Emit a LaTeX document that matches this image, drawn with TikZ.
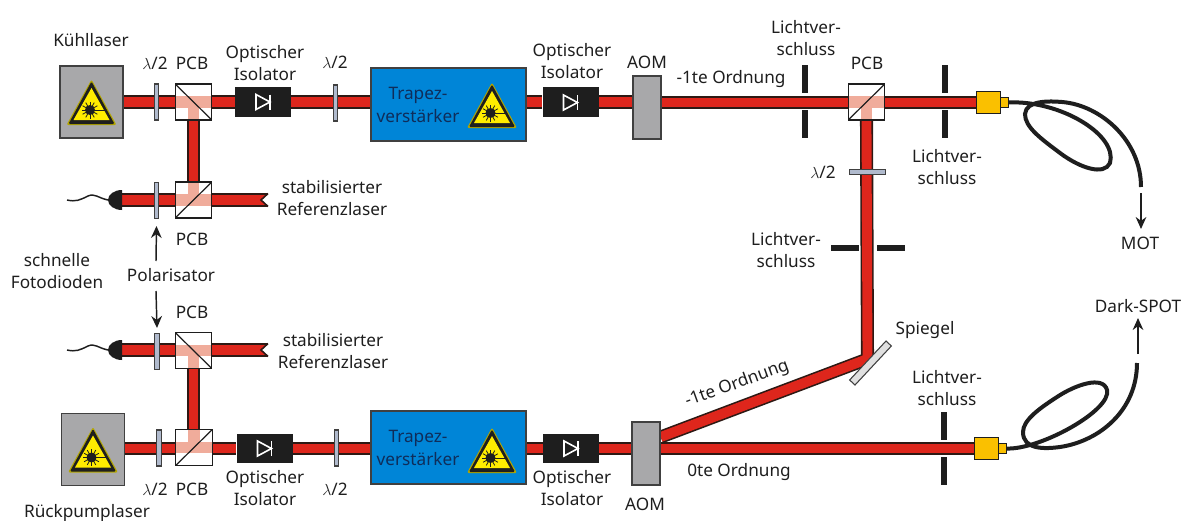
\documentclass[tikz,border=0pt]{standalone}
\usepackage{fontspec}
\setmainfont{Noto Sans}
\usetikzlibrary{arrows.meta,backgrounds}
\definecolor{beamred}{RGB}{222,38,28}
\definecolor{beamedge}{RGB}{45,25,20}
\definecolor{beampink}{RGB}{240,172,155}
\definecolor{boxgray}{RGB}{168,168,170}
\definecolor{ampblue}{RGB}{0,133,215}
\definecolor{amptext}{RGB}{15,45,90}
\definecolor{warnyellow}{RGB}{255,236,0}
\definecolor{fibreyellow}{RGB}{250,192,0}
\definecolor{plateblue}{RGB}{176,186,205}
\definecolor{inkdark}{RGB}{30,30,30}
\tikzset{
  pics/warnsign/.style={code={
    \fill[warnyellow!70!black, rounded corners=1.5] (-25,23) -- (0,-22.5) -- (25,23) -- cycle;
    \fill[inkdark, rounded corners=1] (-23,22) -- (0,-20.5) -- (23,22) -- cycle;
    \fill[warnyellow] (-18,18) -- (0,-14) -- (18,18) -- cycle;
    \fill[inkdark] (-1.5,8) circle (5);
    \foreach \a in {0,30,...,330} {\draw[inkdark, line width=0.6] (-1.5,8) -- ++(\a:8.5);}
    \draw[inkdark, line width=0.6] (-1.5,8) -- (15,8);
  }},
  pics/diode/.style={code={
    \draw[white, line width=1.2, line join=miter] (-7,-7.5) -- (-7,7.5) -- (7,0) -- cycle;
    \draw[white, line width=1.2] (7,-7.5) -- (7,7.5);
  }}
}
\begin{document}
\begin{tikzpicture}[
    x=0.75pt, y=-0.75pt,
    every node/.style={font=\fontsize{12.9}{16.7}\selectfont, text=inkdark, align=center, inner sep=0pt},
    beam/.style={draw=beamedge, line width=1.2pt, double=beamred, double distance=7.4pt},
    laserbox/.style={draw=inkdark!85, line width=1.1pt, fill=boxgray, minimum width=47.5, minimum height=54},
    ampbox/.style={draw=inkdark!85, line width=1.1pt, fill=ampblue, minimum width=116, minimum height=54.5},
    aombox/.style={draw=inkdark!85, line width=1.1pt, fill=boxgray, minimum width=21, minimum height=47},
    plate/.style={draw=inkdark!85, line width=0.8pt, fill=plateblue, minimum width=3.5, minimum height=27},
    hplate/.style={plate, minimum width=27, minimum height=3.5},
    isolator/.style={fill=inkdark, minimum width=42, minimum height=22},
    shutter/.style={fill=inkdark, minimum width=4.5, minimum height=21},
    hshutter/.style={fill=inkdark, minimum width=21, minimum height=4.5},
    fibre/.style={draw=inkdark, line width=3pt},
    coupler/.style={draw=inkdark, line width=0.7pt, fill=fibreyellow, minimum width=18, minimum height=17},
    nozzle/.style={draw=inkdark, line width=0.7pt, fill=fibreyellow, minimum width=6, minimum height=7},
    pointer/.style={->, draw=inkdark, line width=1.1pt},
    pcb/.style n args={3}{draw=inkdark, line width=0.9pt, fill=white, minimum width=27.5, minimum height=27,
      path picture={
        \draw[beampink, line width=8.4pt] (path picture bounding box.west) -- (path picture bounding box.east);
        \draw[beampink, line width=8.4pt] (path picture bounding box.center) -- (path picture bounding box.#1);
        \draw[inkdark, line width=0.9pt] (path picture bounding box.#2) -- (path picture bounding box.#3);
      }},
    >={Stealth[length=9pt,width=8pt]}
  ]
  \useasboundingbox (0,0) rectangle (1182,521);
  % upper row
  \node[laserbox] (kuehl) at (91.5,102) {};
  \pic at (91.5,102) {warnsign};
  \node[plate] (wpA) at (156.5,102) {};
  \node[pcb={south}{north west}{south east}] (pcbA) at (193.5,102) {};
  \node[isolator] (isoA) at (263,102) {};
  \pic at (263,102) {diode};
  \node[plate] (wpB) at (335.5,103) {};
  \node[ampbox] (ampA) at (448.5,104.5) {};
  \pic at (492,105) {warnsign};
  \node[isolator] (isoB) at (570.5,102) {};
  \pic at (570.5,102.5) {diode};
  \node[aombox] (aomA) at (647,107.5) {};
  \node[shutter] (shutA) at (805,79) {};
  \node[shutter] (shutB) at (805,124) {};
  \node[pcb={south}{south west}{north east}] (pcbE) at (866.5,102) {};
  \node[shutter] (shutC) at (945,79) {};
  \node[shutter] (shutD) at (945,124) {};
  \node[coupler] (cplA) at (988,102.5) {};
  \node[nozzle] (nozA) at (1004,102.5) {};
  \node[hplate] (wpC) at (867.5,172) {};
  \node[hshutter] (shutE) at (845,247.5) {};
  \node[hshutter] (shutF) at (890.5,247.5) {};
  % references
  \node[pcb={north}{south west}{north east}] (pcbB) at (193.5,200) {};
  \node[plate] (wpD) at (156.5,200.5) {};
  \node[pcb={south}{north west}{south east}] (pcbC) at (193.5,350.5) {};
  \node[plate] (wpE) at (157,351.5) {};
  \fill[inkdark] (122,190) arc[start angle=270, end angle=90, x radius=14, y radius=10] -- cycle;
  \fill[inkdark] (122,340) arc[start angle=270, end angle=90, x radius=14, y radius=10] -- cycle;
  \coordinate (detB) at (120,200);
  \coordinate (detC) at (120,350);
  \coordinate (refB) at (268,200);
  \coordinate (refC) at (268,350);
  % lower row
  \node[laserbox] (rueck) at (93,449.5) {};
  \pic at (93,449.5) {warnsign};
  \node[plate] (wpF) at (159,448) {};
  \node[pcb={north}{south west}{north east}] (pcbD) at (194,447.5) {};
  \node[isolator] (isoC) at (264.5,448.5) {};
  \pic at (264.5,448.5) {diode};
  \node[plate] (wpG) at (336.5,448) {};
  \node[ampbox] (ampB) at (448.5,447.5) {};
  \pic at (492,450) {warnsign};
  \node[isolator] (isoD) at (571,448.5) {};
  \pic at (571,448.5) {diode};
  \node[aombox] (aomB) at (646,453.5) {};
  \node[shutter] (shutG) at (944,426) {};
  \node[shutter] (shutH) at (944,471) {};
  \node[coupler] (cplB) at (986.5,448.5) {};
  \node[nozzle] (nozB) at (1002,448.5) {};
  \coordinate (mirrorPt) at (867.5,359);
  \begin{scope}[on background layer]
    \draw[beam] (kuehl.east) -- (isoA.west);
    \draw[beam] (isoA.east) -- (ampA.west |- isoA.east);
    \draw[beam] (ampA.east |- isoB.west) -- (isoB.west);
    \draw[beam] (isoB.east) -- (aomA.west |- isoB.east);
    \draw[beam] (aomA.east |- cplA.west) -- (cplA.west);
    \draw[beam] (pcbA.south) -- (pcbA.south |- pcbB.north);
    \draw[beam] (detB) -- (refB);
    \draw[beam] (detC) -- (refC);
    \draw[beam] (pcbC.south) -- (pcbC.south |- pcbD.north);
    \draw[beam] (rueck.east |- isoC.west) -- (isoC.west);
    \draw[beam] (isoC.east) -- (ampB.west |- isoC.east);
    \draw[beam] (ampB.east |- isoD.west) -- (isoD.west);
    \draw[beam] (isoD.east) -- (aomB.west |- isoD.east);
    \draw[beam] (aomB.east |- cplB.west) -- (cplB.west);
    \draw[beam] (pcbE.south) -- (mirrorPt) -- (aomB.east |- 0,437);
  \end{scope}
  % notched ends of the reference beams
  \fill[white] (269,193) -- (261,200) -- (269,207) -- cycle;
  \draw[beamedge, line width=1.2pt] (268,193.5) -- (261,200) -- (268,206.5);
  \fill[white] (269,343) -- (261,350) -- (269,357) -- cycle;
  \draw[beamedge, line width=1.2pt] (268,343.5) -- (261,350) -- (268,356.5);
  % mirror
  \node[draw=inkdark!85, line width=0.8pt, fill=black!12, minimum width=40, minimum height=5.5, rotate=47] (spiegel) at (870.5,363) {};
  % fibres
  \draw[fibre] (nozA.east) .. controls (1060,100) and (1118,135) .. (1110,163) .. controls (1104,176) and (1080,168) .. (1060,153) .. controls (1040,138) and (1025,127) .. (1025,114) .. controls (1026,100) and (1050,101) .. (1062,102) .. controls (1100,105) and (1141,140) .. (1141,187);
  \draw[fibre] (nozB.east) .. controls (1040,450) and (1112,410) .. (1107,390) .. controls (1103,375) and (1075,385) .. (1057,397) .. controls (1040,408) and (1023,420) .. (1023,432) .. controls (1023,450) and (1045,449) .. (1060,447) .. controls (1100,441) and (1137,410) .. (1137,363);
  \draw[inkdark, line width=1.1pt] (108,200) .. controls (98,198) and (95,193) .. (88,196) .. controls (80,200) and (76,202) .. (67,200);
  \draw[inkdark, line width=1.1pt] (108,350) .. controls (98,348) and (95,343) .. (88,346) .. controls (80,350) and (76,352) .. (67,350);
  % arrows
  \coordinate (motStart) at (1141,193);
  \node (mot) at (1140,243) {MOT};
  \draw[pointer] (motStart) -- (1141,229);
  \coordinate (spotStart) at (1138,354);
  \node (spot) at (1138,306) {Dark-SPOT};
  \draw[pointer] (spotStart) -- (1138,318);
  \node (polar) at (171,275) {Polarisator};
  \coordinate (polarUp) at (156,261);
  \coordinate (polarDown) at (156,291);
  \draw[pointer] (polarUp) -- (wpD |- 0,226);
  \draw[pointer] (polarDown) -- (wpE |- 0,328);
  % labels
  \node (kuehlLbl) at (91,40) {Kühllaser};
  \node (rueckLbl) at (87,513) {Rückpumplaser};
  \node (wpAlbl) at (155,63) {$\lambda$/2};
  \node (pcbAlbl) at (192,63) {PCB};
  \node (isoAlbl) at (265,63) {Optischer\\Isolator};
  \node (wpBlbl) at (335,62) {$\lambda$/2};
  \node[text=amptext] (ampAlbl) at (418,105) {Trapez-\\verstärker};
  \node (isoBlbl) at (572,61) {Optischer\\Isolator};
  \node (aomAlbl) at (647,62) {AOM};
  \node (ordA) at (731,79) {-1te Ordnung};
  \node (shutAlbl) at (806,38) {Lichtver-\\schluss};
  \node (pcbElbl) at (867,63) {PCB};
  \node (shutClbl) at (947,167) {Lichtver-\\schluss};
  \node (wpClbl) at (823,172) {$\lambda$/2};
  \node (shutElbl) at (786,250) {Lichtver-\\schluss};
  \node (refBlbl) at (332,198) {stabilisierter\\Referenzlaser};
  \node (pcbBlbl) at (192,239) {PCB};
  \node (fotoLbl) at (57,271) {schnelle\\Fotodioden};
  \node (pcbClbl) at (192,312) {PCB};
  \node (refClbl) at (333,351) {stabilisierter\\Referenzlaser};
  \node (spiegelLbl) at (925,330) {Spiegel};
  \node[rotate=20] (ordB) at (737,384) {-1te Ordnung};
  \node (shutGlbl) at (947,388) {Lichtver-\\schluss};
  \node (ordC) at (739,472) {0te Ordnung};
  \node (wpFlbl) at (155,489) {$\lambda$/2};
  \node (pcbDlbl) at (192,489) {PCB};
  \node (isoClbl) at (265,488) {Optischer\\Isolator};
  \node (wpGlbl) at (335,489) {$\lambda$/2};
  \node[text=amptext] (ampBlbl) at (418,448) {Trapez-\\verstärker};
  \node (isoDlbl) at (572,488) {Optischer\\Isolator};
  \node (aomBlbl) at (645,504) {AOM};
\end{tikzpicture}
\end{document}
